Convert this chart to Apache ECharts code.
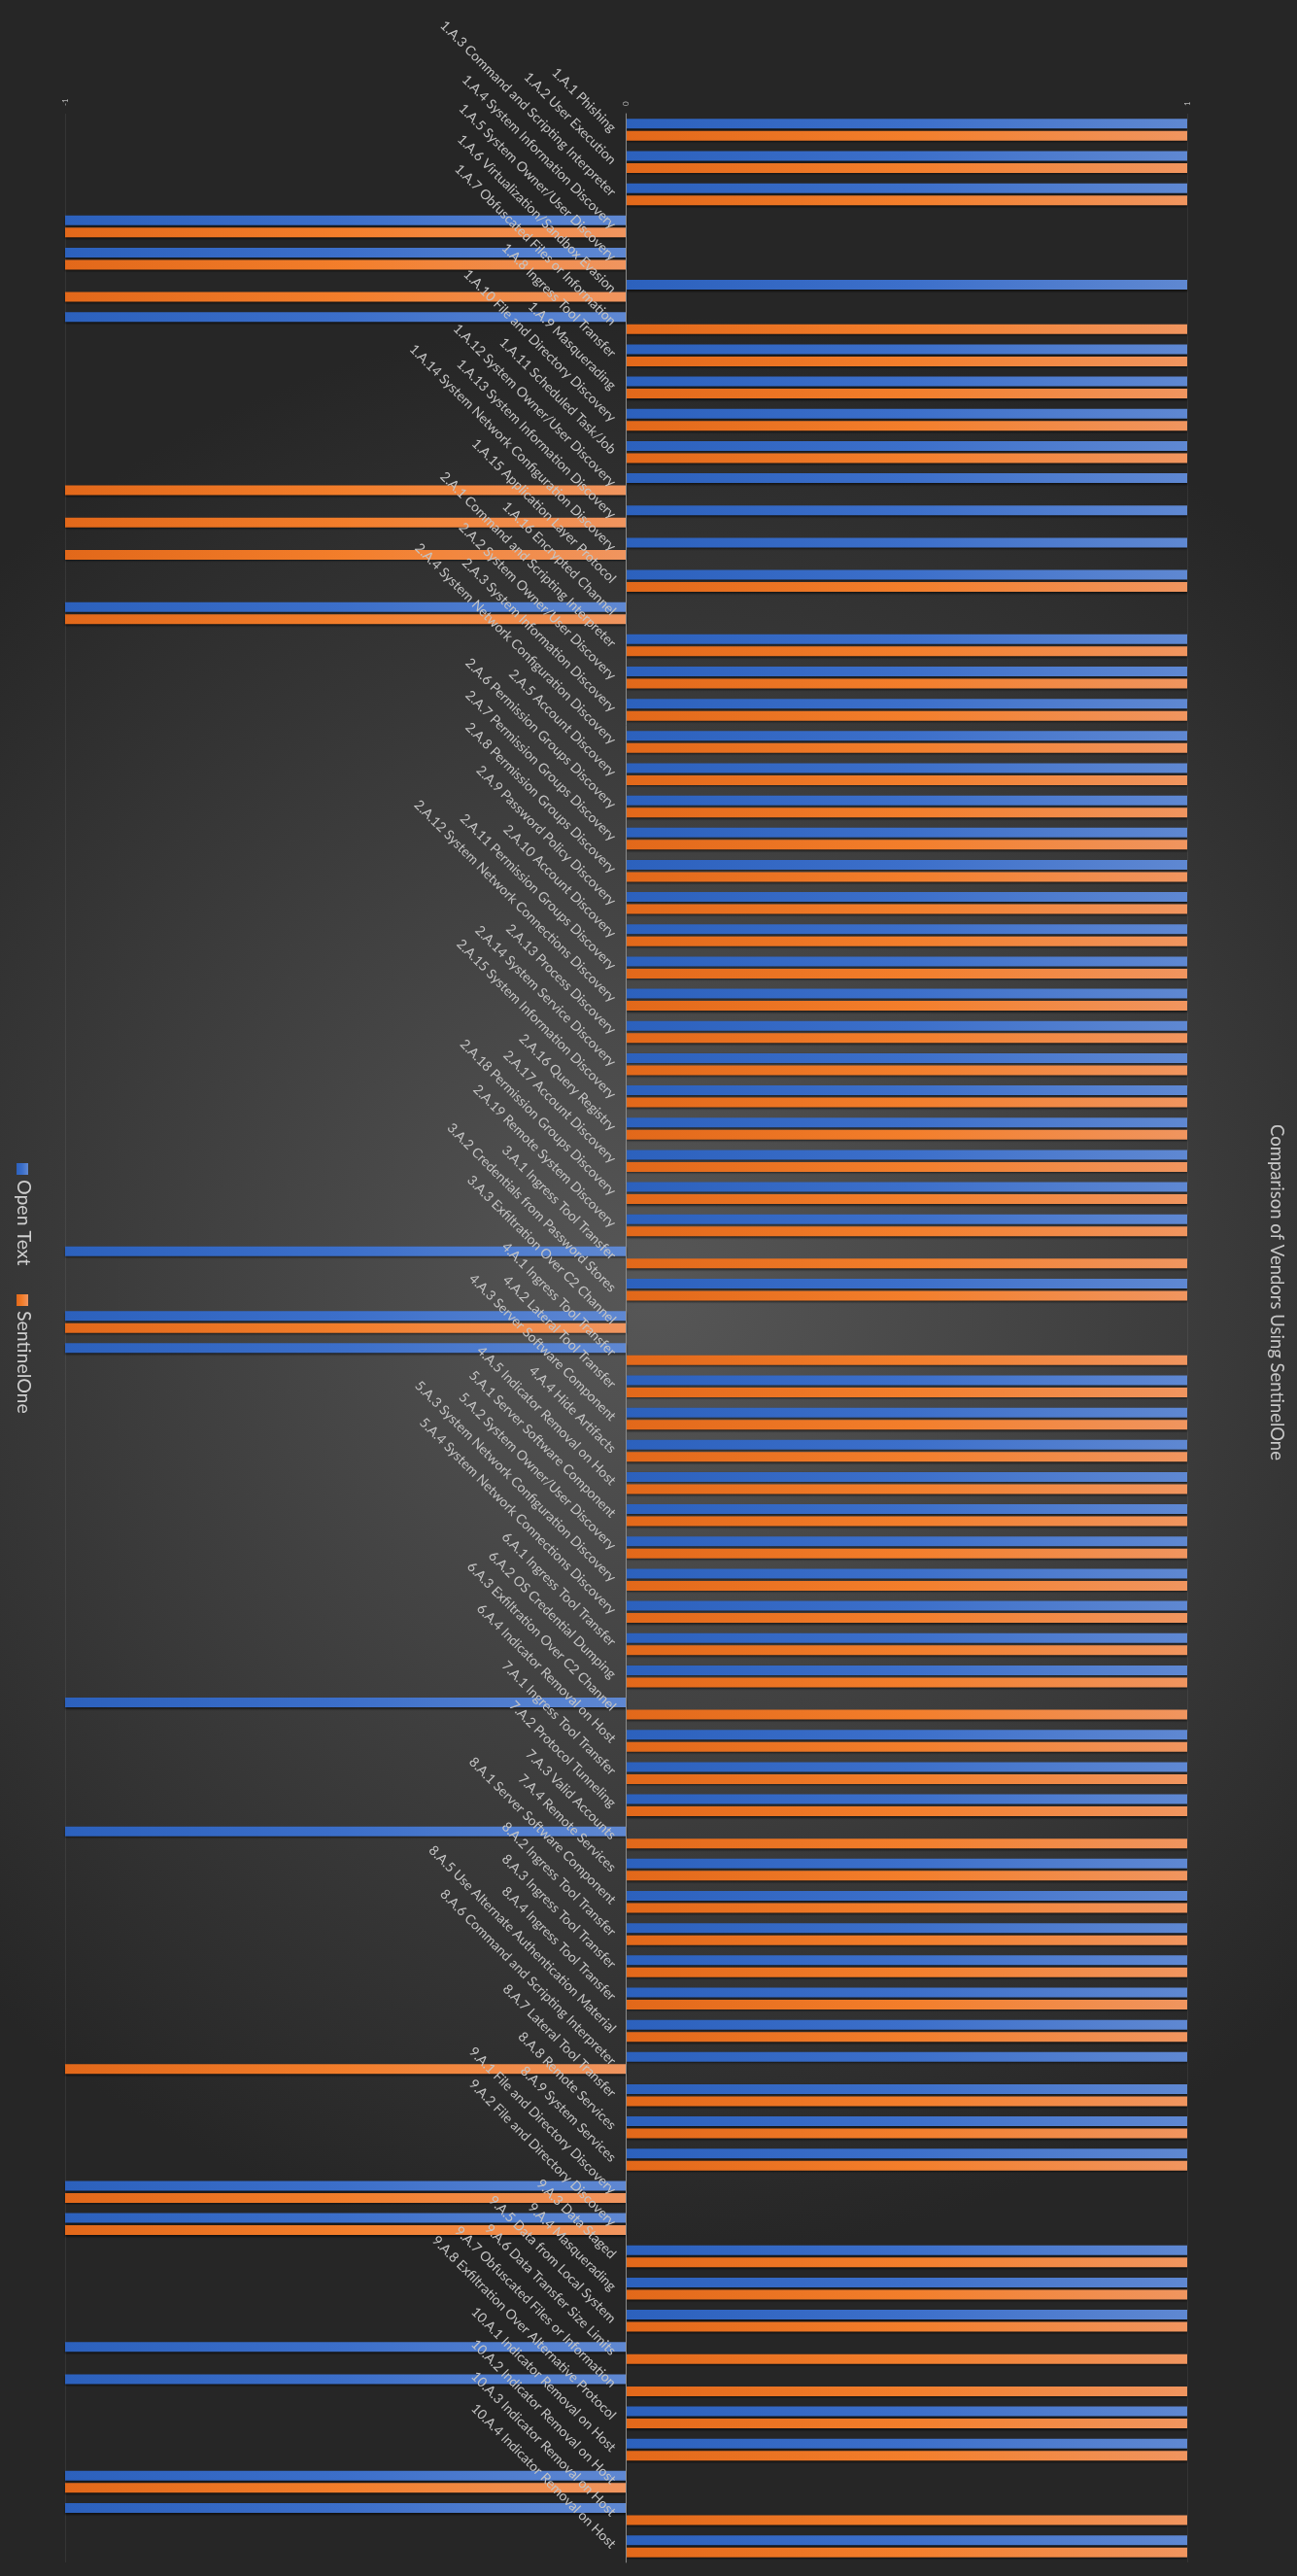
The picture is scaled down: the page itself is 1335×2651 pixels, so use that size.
<!DOCTYPE html>
<html>
<head>
<meta charset="utf-8">
<script src="https://cdn.jsdelivr.net/npm/echarts@6/dist/echarts.min.js"></script>
<style>
html,body{margin:0;padding:0;background:#2a2a2a;}
#chart{width:1335px;height:2651px;}
</style>
</head>
<body>
<div id="chart"></div>
<script>
const titleText = 'Comparison of Vendors Using SentinelOne';
const seriesNames = ['Open Text', 'SentinelOne'];
const categories = [
  '1.A.1 Phishing','1.A.2 User Execution','1.A.3 Command and Scripting Interpreter','1.A.4 System Information Discovery',
  '1.A.5 System Owner/User Discovery','1.A.6 Virtualization/Sandbox Evasion','1.A.7 Obfuscated Files or Information',
  '1.A.8 Ingress Tool Transfer','1.A.9 Masquerading','1.A.10 File and Directory Discovery','1.A.11 Scheduled Task/Job',
  '1.A.12 System Owner/User Discovery','1.A.13 System Information Discovery','1.A.14 System Network Configuration Discovery',
  '1.A.15 Application Layer Protocol','1.A.16 Encrypted Channel','2.A.1 Command and Scripting Interpreter',
  '2.A.2 System Owner/User Discovery','2.A.3 System Information Discovery','2.A.4 System Network Configuration Discovery',
  '2.A.5 Account Discovery','2.A.6 Permission Groups Discovery','2.A.7 Permission Groups Discovery',
  '2.A.8 Permission Groups Discovery','2.A.9 Password Policy Discovery','2.A.10 Account Discovery',
  '2.A.11 Permission Groups Discovery','2.A.12 System Network Connections Discovery','2.A.13 Process Discovery',
  '2.A.14 System Service Discovery','2.A.15 System Information Discovery','2.A.16 Query Registry',
  '2.A.17 Account Discovery','2.A.18 Permission Groups Discovery','2.A.19 Remote System Discovery',
  '3.A.1 Ingress Tool Transfer','3.A.2 Credentials from Password Stores','3.A.3 Exfiltration Over C2 Channel',
  '4.A.1 Ingress Tool Transfer','4.A.2 Lateral Tool Transfer','4.A.3 Server Software Component','4.A.4 Hide Artifacts',
  '4.A.5 Indicator Removal on Host','5.A.1 Server Software Component','5.A.2 System Owner/User Discovery',
  '5.A.3 System Network Configuration Discovery','5.A.4 System Network Connections Discovery',
  '6.A.1 Ingress Tool Transfer','6.A.2 OS Credential Dumping','6.A.3 Exfiltration Over C2 Channel',
  '6.A.4 Indicator Removal on Host','7.A.1 Ingress Tool Transfer','7.A.2 Protocol Tunneling','7.A.3 Valid Accounts',
  '7.A.4 Remote Services','8.A.1 Server Software Component','8.A.2 Ingress Tool Transfer','8.A.3 Ingress Tool Transfer',
  '8.A.4 Ingress Tool Transfer','8.A.5 Use Alternate Authentication Material','8.A.6 Command and Scripting Interpreter',
  '8.A.7 Lateral Tool Transfer','8.A.8 Remote Services','8.A.9 System Services','9.A.1 File and Directory Discovery',
  '9.A.2 File and Directory Discovery','9.A.3 Data Staged','9.A.4 Masquerading','9.A.5 Data from Local System',
  '9.A.6 Data Transfer Size Limits','9.A.7 Obfuscated Files or Information','9.A.8 Exfiltration Over Alternative Protocol',
  '10.A.1 Indicator Removal on Host','10.A.2 Indicator Removal on Host','10.A.3 Indicator Removal on Host',
  '10.A.4 Indicator Removal on Host'
];
const openText = [
   1, 1, 1,-1,-1, 1,-1, 1, 1, 1,
   1, 1, 1, 1, 1,-1, 1, 1, 1, 1,
   1, 1, 1, 1, 1, 1, 1, 1, 1, 1,
   1, 1, 1, 1, 1,-1, 1,-1,-1, 1,
   1, 1, 1, 1, 1, 1, 1, 1, 1,-1,
   1, 1, 1,-1, 1, 1, 1, 1, 1, 1,
   1, 1, 1, 1,-1,-1, 1, 1, 1,-1,
  -1, 1, 1,-1,-1, 1
];
const sentinelOne = [
   1, 1, 1,-1,-1,-1, 1, 1, 1, 1,
   1,-1,-1,-1, 1,-1, 1, 1, 1, 1,
   1, 1, 1, 1, 1, 1, 1, 1, 1, 1,
   1, 1, 1, 1, 1, 1, 1,-1, 1, 1,
   1, 1, 1, 1, 1, 1, 1, 1, 1, 1,
   1, 1, 1, 1, 1, 1, 1, 1, 1, 1,
  -1, 1, 1, 1,-1,-1, 1, 1, 1, 1,
   1, 1, 1,-1, 1, 1
];
const valueMin = -1, valueMax = 1, valueStep = 1;

const blueFill = new echarts.graphic.LinearGradient(0, 0, 1, 0, [
  {offset: 0, color: '#2c61bd'}, {offset: 0.5, color: '#3c6fca'}, {offset: 1, color: '#5f88d2'}]);
const orangeFill = new echarts.graphic.LinearGradient(0, 0, 1, 0, [
  {offset: 0, color: '#e2681a'}, {offset: 0.5, color: '#f37e2b'}, {offset: 1, color: '#f0955f'}]);

const chart = echarts.init(document.getElementById('chart'), null, {renderer: 'canvas'});
const fontFam = 'Lato, "Open Sans", sans-serif';
const gridLeft = 67, gridRight = 113;
const zeroX = gridLeft + (1335 - gridLeft - gridRight) * (0 - valueMin) / (valueMax - valueMin);

chart.setOption({
  backgroundColor: new echarts.graphic.RadialGradient(0.5, 0.5, 0.75, [
    {offset: 0, color: '#575757'}, {offset: 1, color: '#262626'}]),
  animation: false,
  grid: {left: gridLeft, right: gridRight, top: 117, bottom: 14, containLabel: false, outerBoundsMode: 'none'},
  xAxis: {
    type: 'value', position: 'top', min: valueMin, max: valueMax, interval: valueStep,
    axisLine: {show: false}, axisTick: {show: false},
    axisLabel: {rotate: -90, fontSize: 8, color: '#b5b5b5', margin: 8, fontFamily: fontFam},
    splitLine: {show: true, lineStyle: {color: 'rgba(255,255,255,0.07)', width: 1}}
  },
  yAxis: {
    type: 'category', inverse: true, data: categories, z: 10, position: 'left',
    offset: -(zeroX - gridLeft),
    axisLine: {onZero: false, lineStyle: {color: '#8a8a8a', width: 1}},
    axisTick: {show: false},
    axisLabel: {interval: 0, rotate: -45, fontSize: 13.8, color: '#c4c4c4', margin: 13, fontFamily: fontFam, hideOverlap: false}
  },
  series: [
    {name: seriesNames[0], type: 'bar', data: openText, barWidth: 10, barGap: '25%',
     itemStyle: {color: blueFill, shadowColor: 'rgba(0,0,0,0.55)', shadowBlur: 2, shadowOffsetY: 1.5}},
    {name: seriesNames[1], type: 'bar', data: sentinelOne, barWidth: 10, barGap: '25%',
     itemStyle: {color: orangeFill, shadowColor: 'rgba(0,0,0,0.55)', shadowBlur: 2, shadowOffsetY: 1.5}}
  ],
  graphic: [
    {type: 'text', x: 1314, y: 1330, rotation: -Math.PI / 2,
     style: {text: titleText, fontSize: 18.5, fill: '#c8c8c8', fontFamily: fontFam, textAlign: 'center', textVerticalAlign: 'middle'}},
    {type: 'rect', x: 17, y: 1197, shape: {width: 12, height: 12}, style: {fill: blueFill}},
    {type: 'text', x: 24, y: 1214, rotation: -Math.PI / 2,
     style: {text: seriesNames[0], fontSize: 19.5, fill: '#d0d0d0', fontFamily: fontFam, textAlign: 'left', textVerticalAlign: 'middle'}},
    {type: 'rect', x: 17, y: 1332, shape: {width: 12, height: 12}, style: {fill: orangeFill}},
    {type: 'text', x: 24, y: 1349, rotation: -Math.PI / 2,
     style: {text: seriesNames[1], fontSize: 19.5, fill: '#d0d0d0', fontFamily: fontFam, textAlign: 'left', textVerticalAlign: 'middle'}}
  ]
});
</script>
</body>
</html>
